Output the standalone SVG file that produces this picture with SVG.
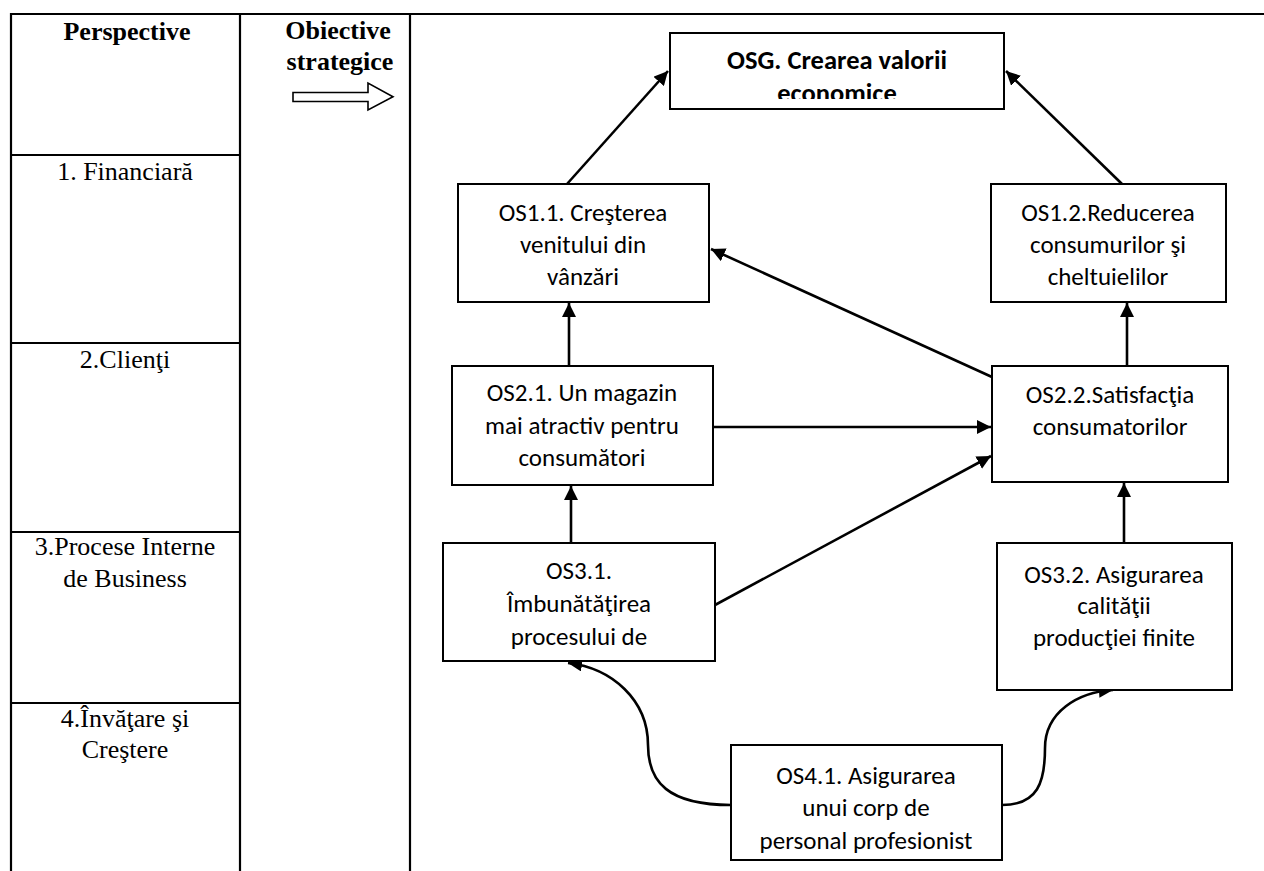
<svg xmlns="http://www.w3.org/2000/svg" width="1264" height="871" viewBox="0 0 1264 871">
<defs>
<marker id="ah" markerUnits="userSpaceOnUse" markerWidth="16" markerHeight="14" refX="14" refY="7" orient="auto">
<path d="M0,0 L14,7 L0,14 Z" fill="#000"/>
</marker>
<clipPath id="clipOSG"><rect x="671" y="34" width="332" height="65"/></clipPath>
<style>
.grid{stroke:#000;stroke-width:2.2;fill:none}
.hdr{font-family:"Liberation Serif","Times New Roman",serif;font-size:26px;font-weight:bold;text-anchor:middle;fill:#000}
.per{font-family:"Liberation Serif","Times New Roman",serif;font-size:26px;text-anchor:middle;fill:#000}
.box{fill:#fff;stroke:#000;stroke-width:2}
.t{font-family:Carlito,Calibri,Lato,sans-serif;font-size:25px;text-anchor:middle;fill:#000}
.tb{font-family:Carlito,Calibri,Lato,sans-serif;font-size:26.5px;font-weight:bold;text-anchor:middle;fill:#000}
.c{stroke:#000;stroke-width:2.6;fill:none;marker-end:url(#ah)}
</style>
</defs>
<rect width="1264" height="871" fill="#fff"/>
<g id="table">
<line class="grid" x1="10" y1="14" x2="1264" y2="14"/>
<line class="grid" x1="11" y1="13" x2="11" y2="871"/>
<line class="grid" x1="240" y1="13" x2="240" y2="871"/>
<line class="grid" x1="410" y1="13" x2="410" y2="871"/>
<line class="grid" x1="11" y1="155" x2="240" y2="155"/>
<line class="grid" x1="11" y1="343" x2="240" y2="343"/>
<line class="grid" x1="11" y1="532" x2="240" y2="532"/>
<line class="grid" x1="11" y1="703" x2="240" y2="703"/>
<text class="hdr" x="127" y="40">Perspective</text>
<text class="hdr" x="338" y="39">Obiective</text>
<text class="hdr" x="340" y="70">strategice</text>
<path d="M293,92.5 L368,92.5 L368,83 L393,96.7 L368,110 L368,101.5 L293,101.5 Z" fill="#fff" stroke="#000" stroke-width="1.6"/>
<text class="per" x="125" y="180">1. Financiară</text>
<text class="per" x="125" y="368">2.Clienţi</text>
<text class="per" x="125" y="555">3.Procese Interne</text>
<text class="per" x="125" y="587">de Business</text>
<text class="per" x="125" y="727">4.Învăţare şi</text>
<text class="per" x="125" y="758">Creştere</text>
</g>
<g id="connectors">
<line class="c" x1="567" y1="184" x2="668" y2="71"/>
<line class="c" x1="1122" y1="184" x2="1006" y2="71"/>
<line class="c" x1="569" y1="366" x2="569" y2="303"/>
<line class="c" x1="1127" y1="366" x2="1127" y2="303"/>
<line class="c" x1="992" y1="377" x2="711" y2="249"/>
<line class="c" x1="713" y1="427" x2="991" y2="427"/>
<line class="c" x1="715" y1="605" x2="991" y2="456"/>
<line class="c" x1="571" y1="543" x2="571" y2="486"/>
<line class="c" x1="1124" y1="543" x2="1124" y2="483"/>
<path class="c" d="M731,805 C668,805 648,782 648,745 C648,700 612,668 568,663"/>
<path class="c" d="M1002,805 C1038,805 1045,782 1045,748 C1045,712 1078,692 1113,690"/>
</g>
<g id="OSG">
<rect class="box" x="670" y="33" width="334" height="76"/>
<g clip-path="url(#clipOSG)">
<text class="tb" x="837" y="69">OSG. Crearea valorii</text>
<text class="tb" x="837" y="102">economice</text>
</g>
</g>
<g id="OS1_1">
<rect class="box" x="458" y="184" width="251" height="118"/>
<text class="t" x="583" y="221">OS1.1. Creşterea</text>
<text class="t" x="583" y="253">venitului din</text>
<text class="t" x="583" y="285">vânzări</text>
</g>
<g id="OS1_2">
<rect class="box" x="991" y="184" width="235" height="118"/>
<text class="t" x="1108" y="221">OS1.2.Reducerea</text>
<text class="t" x="1108" y="253">consumurilor şi</text>
<text class="t" x="1108" y="285">cheltuielilor</text>
</g>
<g id="OS2_1">
<rect class="box" x="452" y="366" width="261" height="119"/>
<text class="t" x="582" y="401">OS2.1. Un magazin</text>
<text class="t" x="582" y="434">mai atractiv pentru</text>
<text class="t" x="582" y="466">consumători</text>
</g>
<g id="OS2_2">
<rect class="box" x="992" y="366" width="236" height="116"/>
<text class="t" x="1110" y="403">OS2.2.Satisfacţia</text>
<text class="t" x="1110" y="435">consumatorilor</text>
</g>
<g id="OS3_1">
<rect class="box" x="443" y="543" width="272" height="118"/>
<text class="t" x="579" y="579">OS3.1.</text>
<text class="t" x="579" y="612">Îmbunătăţirea</text>
<text class="t" x="579" y="645">procesului de</text>
</g>
<g id="OS3_2">
<rect class="box" x="997" y="543" width="235" height="147"/>
<text class="t" x="1114" y="583">OS3.2. Asigurarea</text>
<text class="t" x="1114" y="614">calităţii</text>
<text class="t" x="1114" y="646">producţiei finite</text>
</g>
<g id="OS4_1">
<rect class="box" x="731" y="745" width="271" height="115"/>
<text class="t" x="866" y="784">OS4.1. Asigurarea</text>
<text class="t" x="866" y="816">unui corp de</text>
<text class="t" x="866" y="849">personal profesionist</text>
</g>
</svg>
